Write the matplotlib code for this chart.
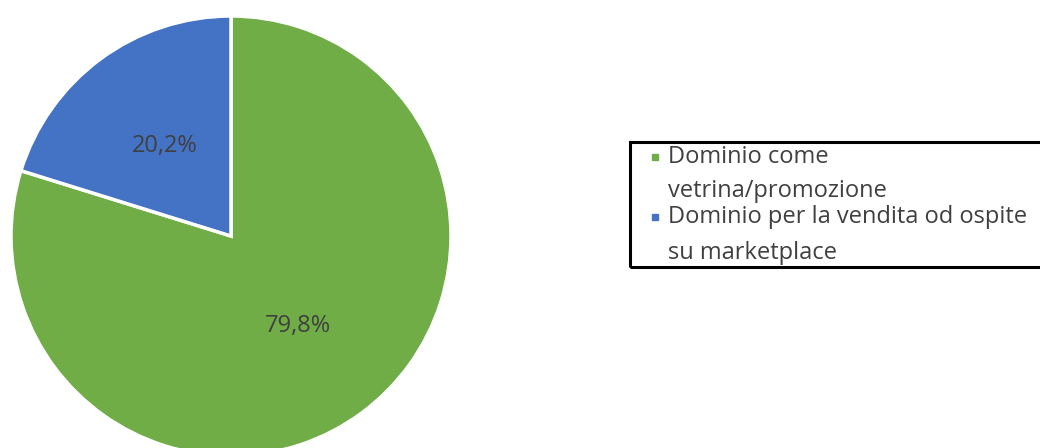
import matplotlib
matplotlib.use("Agg")
import matplotlib.pyplot as plt
from matplotlib.patches import Rectangle

labels = ["Dominio come\nvetrina/promozione",
          "Dominio per la vendita od ospite\nsu marketplace"]
shares = [79.8, 20.2]
colors = ["#70AD47", "#4472C4"]

plt.rcParams['font.family'] = ['Open Sans', 'DejaVu Sans']

W, H = 1040, 448
fig = plt.figure(figsize=(W / 100, H / 100), dpi=100)

# pie centred at (231, 236) px, radius 220 px
cx, cy, r = 231, 236, 220
ax = fig.add_axes([(cx - r) / W, (H - cy - r) / H, 2 * r / W, 2 * r / H])
wedges, _, autotexts = ax.pie(
    shares, colors=colors, startangle=90, counterclock=False,
    autopct=lambda p: f"{p:.1f}%".replace(".", ","), pctdistance=0.51,
    wedgeprops=dict(edgecolor="white", linewidth=2.5),
    textprops=dict(fontsize=17, color="#404040"))
ax.set_xlim(-1, 1)
ax.set_ylim(-1, 1)
ax.set_aspect("equal")

# legend box drawn by hand so the marker sits on the first line
def fx(x):
    return x / W

def fy(y):
    return 1 - y / H

fig.patches.append(Rectangle((fx(630), fy(267)), fx(1046) - fx(630), fy(142) - fy(267),
                             transform=fig.transFigure, fill=False,
                             edgecolor="black", linewidth=2.2))

line_y = [[157, 191], [217, 253]]
for lab, col, ys in zip(labels, colors, line_y):
    for txt, y in zip(lab.split("\n"), ys):
        fig.text(fx(668), fy(y), txt, fontsize=17, color="#404040",
                 va="center", ha="left")
    fig.patches.append(Rectangle((fx(652), fy(ys[0] + 3)), 6 / W, 6 / H,
                                 transform=fig.transFigure, color=col))

fig.savefig("out.png", dpi=100)
